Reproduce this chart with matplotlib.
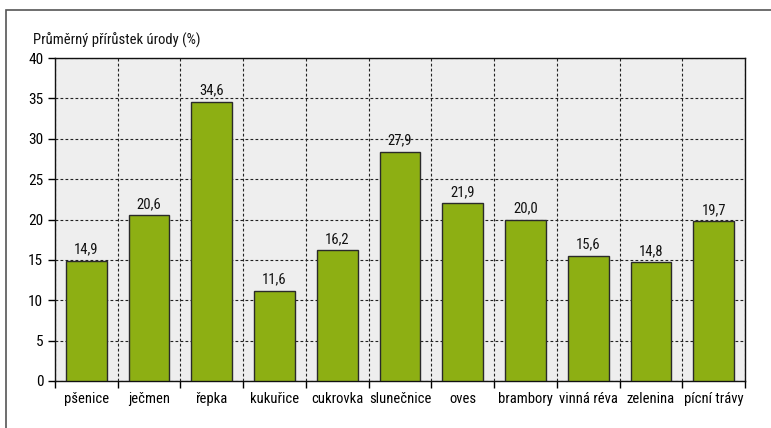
import matplotlib.pyplot as plt
import matplotlib.patches as patches
from matplotlib import font_manager

installed = {f.name for f in font_manager.fontManager.ttflist}
main_font = "Roboto"
for cand in ["Liberation Sans Narrow", "Roboto Condensed", "Open Sans Condensed"]:
    if cand in installed:
        main_font = cand
        break
plt.rcParams['font.family'] = [main_font, 'DejaVu Sans']
fs = 10.5 if main_font != "Roboto" else 9.5

categories = ["pšenice", "ječmen", "řepka", "kukuřice", "cukrovka", "slunečnice",
              "oves", "brambory", "vinná réva", "zelenina", "pícní trávy"]
values = [14.9, 20.5, 34.6, 11.2, 16.2, 28.4, 22.0, 20.0, 15.5, 14.7, 19.8]
value_labels = ["14,9", "20,6", "34,6", "11,6", "16,2", "27,9",
                "21,9", "20,0", "15,6", "14,8", "19,7"]
y_ticks = [0, 5, 10, 15, 20, 25, 30, 35, 40]

fig = plt.figure(figsize=(7.71, 4.28), dpi=100)
ax = fig.add_axes([55 / 771, 1 - 381 / 428, 690 / 771, 323 / 428])
ax.set_facecolor("#eeeeee")

x = list(range(len(categories)))
ax.bar(x, values, width=0.65, color="#8daf13", edgecolor="#2a2a2a", linewidth=1.0, zorder=3)

for xi, v, lab in zip(x, values, value_labels):
    ax.annotate(lab, (xi, v), xytext=(0, 3), textcoords="offset points",
                ha="center", va="bottom", fontsize=fs, color="#111111", zorder=4)

ax.set_xlim(-0.5, len(categories) - 0.5)
ax.set_ylim(0, 40)
ax.set_yticks(y_ticks)
ax.set_xticks(x)
ax.set_xticklabels(categories, fontsize=fs)
ax.set_xticks([i - 0.5 for i in range(len(categories) + 1)], minor=True)
ax.tick_params(axis="x", which="major", length=0, pad=8)
ax.tick_params(axis="x", which="minor", length=5, width=1, direction="out")
ax.tick_params(axis="y", length=5, width=1, direction="out", labelsize=fs + 0.5)

ax.grid(True, axis="y", which="major", linestyle=(0, (2.5, 2)), color="#222222", linewidth=0.8, zorder=1)
ax.grid(True, axis="x", which="minor", linestyle=(0, (2.5, 2)), color="#222222", linewidth=0.8, zorder=1)
ax.set_axisbelow(True)

for s in ax.spines.values():
    s.set_color("#111111")
    s.set_linewidth(1.0)

fig.text(33 / 771, 1 - 40 / 428, "Průměrný přírůstek úrody (%)", ha="left", va="center",
         fontsize=fs, color="#111111")

frame = patches.Rectangle((6 / 771, -0.1), 1.2, 1 - 10 / 428 + 0.1, transform=fig.transFigure,
                          fill=False, edgecolor="#555555", linewidth=1.2)
fig.patches.append(frame)

plt.savefig("out.png", dpi=100)
plt.close()
